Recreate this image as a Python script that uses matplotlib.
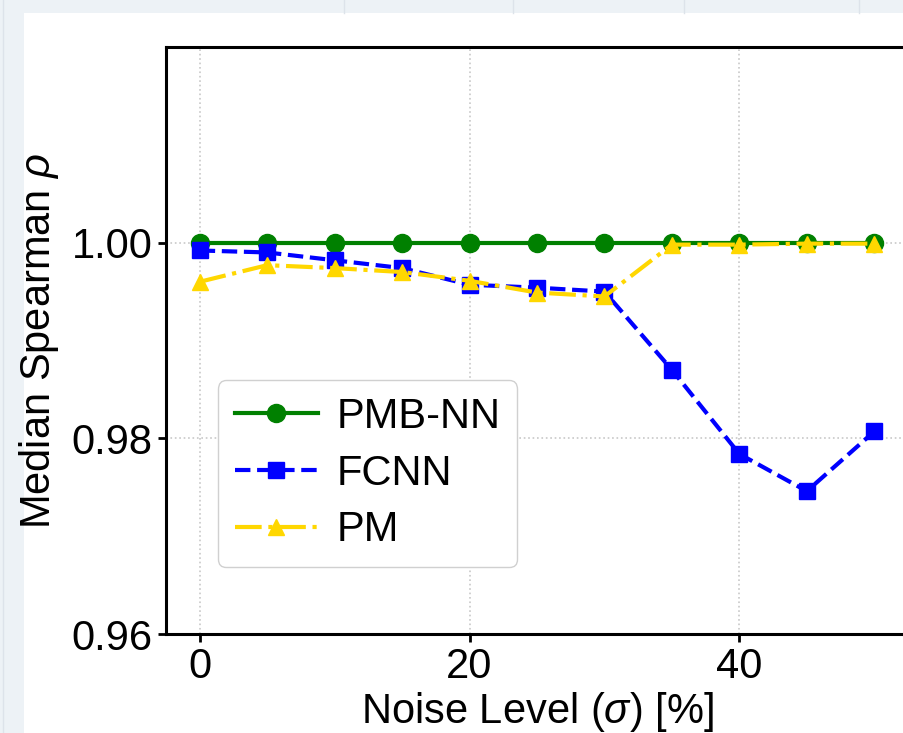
import matplotlib
matplotlib.use("Agg")
from matplotlib import pyplot as plt
from matplotlib.lines import Line2D
from matplotlib.patches import Rectangle

# data
noise_level = [0, 5, 10, 15, 20, 25, 30, 35, 40, 45, 50]
pmb_nn = [1.0000, 1.0000, 1.0000, 1.0000, 1.0000, 1.0000, 1.0000, 1.0000, 1.0000, 1.0000, 1.0000]
fcnn = [0.9992, 0.9990, 0.9982, 0.9974, 0.9957, 0.9954, 0.9950, 0.9870, 0.9784, 0.9746, 0.9807]
pm = [0.9960, 0.9977, 0.9974, 0.9970, 0.9961, 0.9949, 0.9945, 0.9998, 0.9998, 0.9999, 0.9999]
x_ticks = [0, 20, 40]
y_ticks = [0.96, 0.98, 1.00]

plt.rcParams["font.family"] = ["Liberation Sans", "DejaVu Sans"]
plt.rcParams["mathtext.fontset"] = "custom"
plt.rcParams["mathtext.rm"] = "Liberation Sans"
plt.rcParams["mathtext.it"] = "Liberation Sans:italic"

W, H = 904, 733
fig = plt.figure(figsize=(W / 100, H / 100), dpi=100)
fig.patch.set_facecolor("#edf2f6")

# white page area of the screenshot
fig.patches.append(Rectangle((24 / W, 0), 1 - 24 / W, 1 - 13 / H, transform=fig.transFigure,
                             facecolor="white", edgecolor="none", zorder=-2))
for xp in [344, 513, 684, 859]:
    fig.add_artist(Line2D([xp / W, xp / W], [1 - 13 / H, 1], color="#dde3ea", lw=1, zorder=-1))
fig.add_artist(Line2D([3 / W, 3 / W], [0, 1], color="#dde3ea", lw=1, zorder=-1))

ax = fig.add_axes([166 / W, 99 / H, 742 / W, 587 / H])
ax.set_zorder(1)

ax.plot(noise_level, pmb_nn, color="green", linestyle="-", marker="o", lw=3, markersize=13, label="PMB-NN", zorder=3)
ax.plot(noise_level, fcnn, color="blue", linestyle="--", marker="s", lw=3, markersize=11, label="FCNN", zorder=4)
ax.plot(noise_level, pm, color="gold", linestyle="-.", marker="^", lw=3, markersize=12, label="PM", zorder=5)

ax.set_xlim(-2.5, 52.5)
ax.set_ylim(0.96, 1.02)
ax.set_xticks(x_ticks)
ax.set_yticks(y_ticks)
ax.set_yticklabels([f"{v:.2f}" for v in y_ticks])
ax.grid(True, linestyle=":", color="#c8c8c8", lw=1.2)
ax.set_axisbelow(True)

ax.tick_params(labelsize=30, width=2, length=6, direction="out")
for s in ax.spines.values():
    s.set_linewidth(2.2)

ax.set_xlabel(r"Noise Level ($\sigma$) [%]", fontsize=30, labelpad=2)
ax.set_ylabel(r"Median Spearman $\rho$", fontsize=30, labelpad=8)

ax.legend(loc="lower left", bbox_to_anchor=(0.07, 0.114), borderaxespad=0, fontsize=30,
          handlelength=2.0, handletextpad=0.45, framealpha=1, edgecolor="#d0d0d0",
          borderpad=0.4, labelspacing=0.4)

fig.savefig("out.png", dpi=100, facecolor=fig.get_facecolor())
